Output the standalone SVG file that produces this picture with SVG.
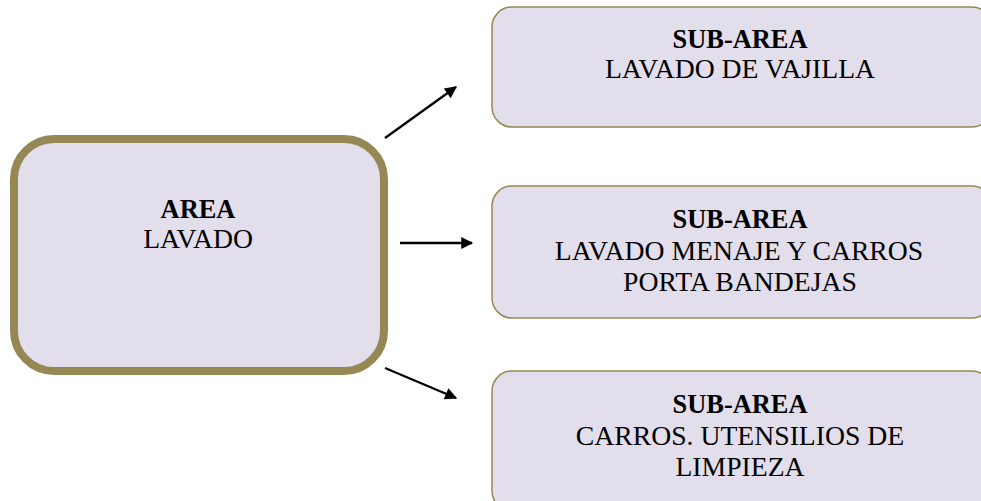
<svg xmlns="http://www.w3.org/2000/svg" width="981" height="501" viewBox="0 0 981 501">
  <defs>
    <style>
      .main { fill: #E3DEEC; stroke: #968855; stroke-width: 8; }
      .sub { fill: #E3DEEC; stroke: #968855; stroke-width: 1.5; }
      .t { font-family: "Liberation Serif", "Times New Roman", serif; font-size: 27.7px; fill: #000; text-anchor: middle; }
      .b { font-weight: bold; font-size: 26.4px; }
      .conn { stroke: #000; stroke-width: 2.3; fill: none; marker-end: url(#head); }
    </style>
    <marker id="head" viewBox="0 0 10 10" refX="9" refY="5" markerWidth="6.5" markerHeight="5.2" markerUnits="strokeWidth" orient="auto">
      <path d="M0,0 L10,5 L0,10 z" fill="#000"/>
    </marker>
  </defs>
  <rect width="981" height="501" fill="#fff"/>

  <g id="area-lavado">
    <rect class="main" x="14" y="139" width="370" height="232" rx="40" ry="40"/>
    <text class="t b" x="198" y="218">AREA</text>
    <text class="t" x="198" y="248">LAVADO</text>
  </g>

  <g id="sub-vajilla">
    <rect class="sub" x="492" y="7" width="500" height="120" rx="20" ry="20"/>
    <text class="t b" x="740" y="48">SUB-AREA</text>
    <text class="t" x="740" y="78">LAVADO DE VAJILLA</text>
  </g>

  <g id="sub-menaje">
    <rect class="sub" x="492" y="186" width="500" height="132" rx="20" ry="20"/>
    <text class="t b" x="740" y="228">SUB-AREA</text>
    <text class="t" x="739" y="260">LAVADO MENAJE Y CARROS</text>
    <text class="t" x="740" y="291">PORTA BANDEJAS</text>
  </g>

  <g id="sub-utensilios">
    <rect class="sub" x="492" y="371" width="500" height="140" rx="20" ry="20"/>
    <text class="t b" x="740" y="413">SUB-AREA</text>
    <text class="t" x="740" y="445">CARROS. UTENSILIOS DE</text>
    <text class="t" x="740" y="476">LIMPIEZA</text>
  </g>

  <g id="connectors">
    <line class="conn" x1="385" y1="138" x2="456" y2="87"/>
    <line class="conn" x1="400" y1="243" x2="472" y2="243"/>
    <line class="conn" x1="385" y1="368" x2="456" y2="398"/>
  </g>
</svg>
